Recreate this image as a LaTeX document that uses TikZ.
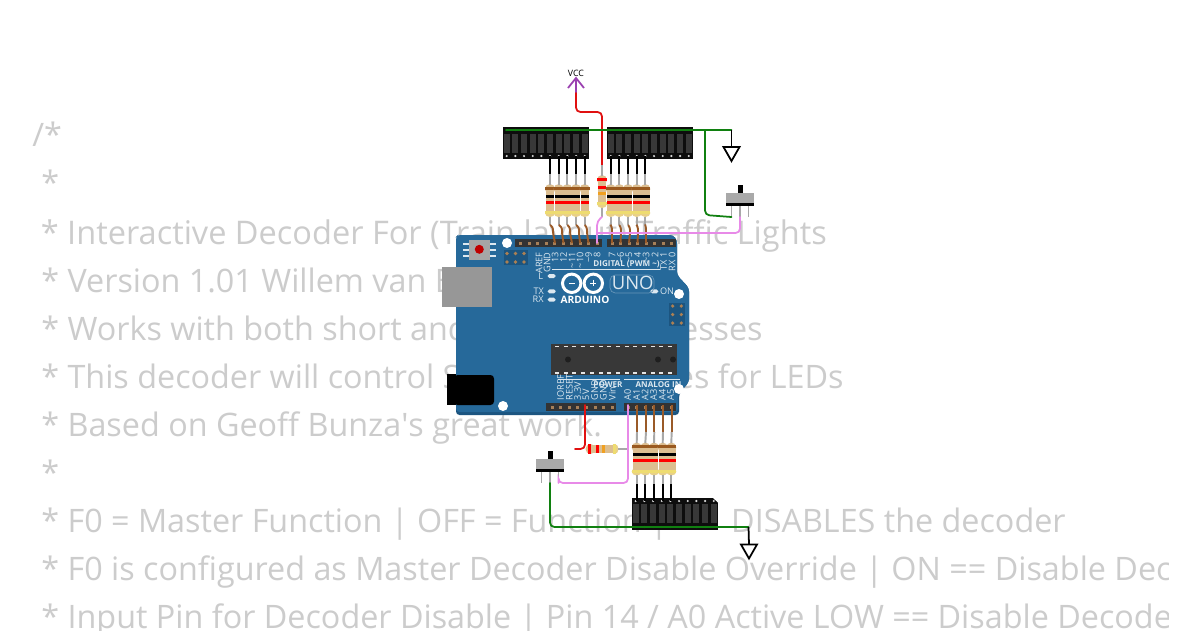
\documentclass[tikz,border=0pt]{standalone}
\usepackage{fontspec}
\setmainfont{Open Sans}
\usepackage{tikz}
\usetikzlibrary{positioning}
\definecolor{codegray}{HTML}{CCCCCC}
\definecolor{boardblue}{HTML}{26699A}
\definecolor{boarddark}{HTML}{1C5580}
\definecolor{silk}{HTML}{DCE8F0}
\definecolor{wiregreen}{HTML}{108010}
\definecolor{wirered}{HTML}{E01010}
\definecolor{wirepink}{HTML}{E88AE8}
\definecolor{wirebrown}{HTML}{9A5A28}
\definecolor{vccpurple}{HTML}{9A40B0}
\definecolor{leadgray}{HTML}{A8A8A8}
\definecolor{restan}{HTML}{DCBE90}
\definecolor{resend}{HTML}{E8D088}
\definecolor{bandbrown}{HTML}{9A5A20}
\definecolor{bandgold}{HTML}{EEDC70}
\definecolor{bandorange}{HTML}{F0A020}
\definecolor{switchgray}{HTML}{A9A9A9}
\tikzset{
	codeline/.style={anchor=base west, inner sep=0pt, text=codegray, font=\fontsize{18.4}{20}\selectfont},
	codewide/.style={codeline, font=\fontsize{18.52}{20}\selectfont},
	codeend/.style={codeline, anchor=base east},
	silkv/.style={rotate=90, inner sep=0pt, text=silk, font=\fontsize{5.2}{6}\selectfont},
	silkh/.style={inner sep=0pt, text=silk, font=\fontsize{5.2}{6}\selectfont},
	silkb/.style={inner sep=0pt, text=silk, font=\fontsize{4.6}{5}\selectfont\bfseries},
	wire/.style={line width=1pt, rounded corners=2.5, line cap=round},
	lead/.style={line width=1.1pt, leadgray},
	pics/resistor/.style n args={4}{code={
		\fill[restan] (0,-11.5) ellipse (5 and 5);
		\fill[resend] (0,12.5) ellipse (5 and 4);
		\fill[restan] (-4.2,-12) rectangle (4.2,11);
		\fill[#1] (-5,-13.8) rectangle (5,-11);
		\fill[#2] (-4.2,-6) rectangle (4.2,-3);
		\fill[#3] (-4.2,0) rectangle (4.2,3);
		\fill[#4] (-5,10.5) rectangle (5,13.5);
		\coordinate (-top) at (0,-16);
		\coordinate (-bot) at (0,16);
	}},
	pics/header/.style={code={
		\fill[black!95] (0,-16) rectangle (85.5,16);
		\foreach \i in {0,...,9}{
			\fill[black!78] (0.7+8.67*\i,-9) rectangle (6.7+8.67*\i,10);
			\fill[white!85!black] (3.7+8.67*\i,13) circle (1.2);
			\fill[green!55!black] (3.7+8.67*\i,-13) circle (1.2);
		}
	}},
	pics/slideswitch/.style={code={
		\fill[black] (-2.5,-18) rectangle (2.5,-10);
		\fill[switchgray] (-14,-10) rectangle (14,0);
		\fill[black] (-14,0) rectangle (14,3);
		\foreach \i in {-8.5,0,8.5}{
			\draw[lead] (\i,3)--(\i,14);
		}
		\coordinate (-a) at (-8.5,14);
		\coordinate (-b) at (0,14);
		\coordinate (-c) at (8.5,14);
	}},
	pics/gndsym/.style={code={
		\draw[black, line width=1pt, fill=white] (-8,0)--(8,0)--(0,14)--cycle;
		\coordinate (-in) at (0,0);
	}},
}
\begin{document}
\begin{tikzpicture}[x=0.02cm, y=-0.02cm]
	\useasboundingbox (0,0) rectangle (1200,630);
	\fill[white] (0,0) rectangle (1200,630);
	% code text behind the board
	\begin{scope}
		\clip (0,0) rectangle (1168,630);
		\node[codeline] (ln1) at (32,146) {/*};
		\node[codeline] (ln2) at (41,194) {*};
		\node[codewide] (ln3) at (40.5,244) {* Interactive Decoder For (Train layout) Traffic Lights};
		\node[codeline] (ln4) at (41,292) {* Version 1.01 Willem van B};
		\node[codeline] (ln5) at (41,340) {* Works with both short and};
		\node[codeend] (ln5b) at (763,340) {esses};
		\node[codeline] (ln6) at (41,388) {* This decoder will control S};
		\node[codeend] (ln6b) at (844,388) {es for LEDs};
		\node[codeline] (ln7) at (41,436) {* Based on Geoff Bunza\textquotesingle s great work.};
		\node[codeline] (ln8) at (41,484) {*};
		\node[codeline] (ln9) at (41,532) {* F0 = Master Function | OFF = Function |};
		\node[codeend] (ln9b) at (1066,532) {DISABLES the decoder};
		\node[codeline] (ln10) at (41,580) {* F0 is configured as Master Decoder Disable Override | ON == Disable Decoder};
		\node[codeline] (ln11) at (41,628) {* Input Pin for Decoder Disable | Pin 14 / A0 Active LOW == Disable Decoder};
	\end{scope}
	% board
	\fill[boarddark, rounded corners=2] (456,237)--(458,235)--(673,235)--(677,240)--(677,275)--(689,288)--(689,382)--(679,394)--(679,415)--(456,415)--cycle;
	\fill[boardblue, rounded corners=2] (456,237)--(458,235)--(673,235)--(677,240)--(677,275)--(689,288)--(689,382)--(678,394)--(678,412)--(456,412)--cycle;
	% reset button
	\fill[silk] (463,243) rectangle (496,245);
	\fill[silk] (463,249) rectangle (496,251);
	\fill[silk] (463,255) rectangle (496,257);
	\fill[gray!70] (469,240) rectangle (490,260);
	\fill[red!75!black] (479.3,249.3) circle (4.5);
	% usb and jack
	\fill[leadgray!90!black] (442,267) rectangle (492,307);
	\fill[black] (447,374) rectangle (456,405);
	\fill[black, rounded corners=2] (454,375) rectangle (494,405);
	% icsp blocks
	\fill[boarddark] (504,250) rectangle (528,265);
	\foreach \hx in {507,515.5,524}{
		\foreach \hy in {253.5,262}{
			\fill[brown!70!gray] (\hx,\hy) circle (1.8);
		}
	}
	\fill[boarddark] (669,303) rectangle (685,326);
	\foreach \hx in {672.7,681.3}{
		\foreach \hy in {306,314.5,323}{
			\fill[brown!70!gray] (\hx,\hy) circle (1.8);
		}
	}
	% chip
	\fill[black!78] (551,344) rectangle (677,375);
	\foreach \i in {0,...,13}{
		\fill[white!90!black] (555+8.7*\i,345.5) rectangle (559+8.7*\i,347);
		\fill[white!90!black] (555+8.7*\i,372) rectangle (559+8.7*\i,373.5);
	}
	\foreach \hx in {568,658,673}{
		\fill[black!88] (\hx,359.5) circle (3);
	}
	% pin strips
	\fill[black!80] (515,239) rectangle (602,247);
	\fill[black!80] (607,239) rectangle (676,247);
	\fill[black!80] (546,403) rectangle (616,411);
	\fill[black!80] (624,403) rectangle (676,411);
	\foreach \i in {0,...,9}{
		\fill[brown!60!gray] (519+8.5*\i,241.5) rectangle (522+8.5*\i,244.5);
	}
	\foreach \i in {0,...,7}{
		\fill[brown!60!gray] (610.5+8.5*\i,241.5) rectangle (613.5+8.5*\i,244.5);
		\fill[brown!60!gray] (550.5+8.6*\i,405.5) rectangle (553.5+8.6*\i,408.5);
	}
	\foreach \i in {0,...,5}{
		\fill[brown!60!gray] (626.5+8.6*\i,405.5) rectangle (629.5+8.6*\i,408.5);
	}
	% board labels
	\foreach \n/\lx/\ltxt in {a/539/AREF,b/547/GND,c/555/13,d/563.5/12,e/572/\textasciitilde 11,f/580/\textasciitilde 10,g/588.5/\textasciitilde 9,h/597/8,i/612/7,j/620.5/\textasciitilde 6,k/629/\textasciitilde 5,l/637.5/4,m/646/\textasciitilde 3,n/655/2,o/663.5/1,p/672/0}{
		\node[silkv, anchor=east] (dg\n) at (\lx,252) {\ltxt};
	}
	\node[silkv, anchor=east] (dgtx) at (663.5,260) {TX};
	\node[silkv, anchor=east] (dgrx) at (672,260) {RX};
	\foreach \n/\lx/\ltxt in {a/560.7/IOREF,b/569.3/RESET,c/577.7/3.3V,d/586/5V,e/594.7/GND,f/603.3/GND,g/612.3/Vin,h/627.7/A0,i/636.7/A1,j/645/A2,k/653.7/A3,l/662.3/A4,m/670.7/A5}{
		\node[silkv, anchor=west] (pw\n) at (\lx,400.5) {\ltxt};
	}
	\draw[silk, line width=0.3pt] (552,269)--(660,269);
	\draw[silk, line width=0.3pt] (558,379)--(620,379);
	\draw[silk, line width=0.3pt] (624,379)--(680,379);
	\node[silkb, anchor=east] (lbdigital) at (660,264) {DIGITAL (PWM \textasciitilde)};
	\node[silkb] (lbpower) at (608,384.5) {POWER};
	\node[silkb] (lbanalog) at (658.5,384.5) {ANALOG IN};
	\node[silkh] (lbl) at (540.7,276) {L};
	\node[silkh] (lbtx) at (538.7,291) {TX};
	\node[silkh] (lbrx) at (538.2,299.7) {RX};
	\node[silkh] (lbon) at (667,291.3) {ON};
	\foreach \hx/\hy in {551.7/276,551.7/291.3,551.7/299.7,654.3/291.3}{
		\fill[silk, rounded corners=1] (\hx-4,\hy-2) rectangle (\hx+4,\hy+2);
	}
	% mounting holes
	\foreach \hx/\hy in {507/243,679/294,679/389,503/406}{
		\fill[white] (\hx,\hy) circle (5);
	}
	% logo
	\draw[white, line width=1.7pt] (571.7,283.3) circle (9.2);
	\draw[white, line width=1.7pt] (593.3,283.3) circle (9.2);
	\fill[white] (568.7,282.6) rectangle (574.7,284);
	\fill[white] (590.3,282.6) rectangle (596.3,284);
	\fill[white] (592.6,280.3) rectangle (594,286.3);
	\node[inner sep=0pt, text=white, font=\fontsize{5.8}{7}\selectfont\bfseries] (lbarduino) at (585,299.7) {ARDUINO};
	\draw[silk!35!boardblue, line width=0.4pt, rounded corners=3] (610,275) rectangle (654,293);
	\node[inner sep=0pt, text=silk, font=\fontsize{10.5}{12}\selectfont] (lbuno) at (632.7,283.3) {UNO};
	% top headers
	\pic (hdrtl) at (503,143) {header};
	\pic (hdrtr) at (607,143) {header};
	\pic[yscale=-1] (hdrb) at (632,514) {header};
	\fill[white] (712,497)--(718.5,497)--(718.5,503)--cycle;
	% resistors to the digital pins
	\foreach \n/\rx/\bx/\px in {1/550/553/555,2/558.7/562/563.5,3/567.3/570/572,4/576/579/580,5/584.7/587/588.5,6/610.7/612/612,7/619.3/621/620.5,8/628/630/629,9/636.7/638/637.5,10/645.3/646/646}{
		\pic (rt\n) at (\rx,200.5) {resistor={bandbrown}{black}{red}{bandgold}};
		\coordinate (kt\n) at (\rx,156);
		\coordinate (bt\n) at (\px,243);
		\coordinate (mt\n) at (\bx,233);
		\draw[black, line width=1.1pt] (kt\n)--(\rx,173.5);
		\draw[lead] (\rx,173.5)--(rt\n-top);
		\draw[lead] (rt\n-bot)--(\rx,225);
		\draw[wirebrown, line width=1.1pt, rounded corners=1.5] (\rx,225)--(\bx,227)--(mt\n)--(bt\n);
	}
	% resistors to the analog pins
	\foreach \n/\rx/\px in {1/636.7/637,2/645.3/646,3/654/654.3,4/662.7/663,5/671.3/671.7}{
		\pic (rb\n) at (\rx,459) {resistor={bandbrown}{black}{red}{bandgold}};
		\coordinate (ba\n) at (\px,405);
		\coordinate (kb\n) at (\rx,501);
		\draw[wirebrown, line width=1.1pt] (ba\n)--(\px,432);
		\draw[lead] (\px,432)--(rb\n-top);
		\draw[lead] (rb\n-bot)--(\rx,484);
		\draw[black, line width=1.1pt] (\rx,484)--(kb\n);
	}
	% vcc
	\node[inner sep=0pt, font=\fontsize{5}{6}\selectfont] (vcc) at (576,73) {VCC};
	\coordinate (vcctip) at (576,78);
	\coordinate (vccstem) at (576,93);
	\draw[vccpurple, line width=1pt] (568,88)--(vcctip)--(584,88);
	\draw[vccpurple, line width=1pt] (vcctip)--(vccstem);
	\pic (rv) at (602,191.5) {resistor={red}{red}{bandorange}{bandgold}};
	\coordinate (rvlo) at (602,217);
	\draw[wire, wirered] (vccstem)--(576,112)--(602,112)--(602,165);
	\draw[lead] (602,165)--(rv-top);
	\draw[lead] (rv-bot)--(rvlo);
	% ground and switch upper right
	\pic (gnda) at (731.5,147) {gndsym};
	\pic (swa) at (740,203) {slideswitch};
	\coordinate (tapa) at (705,130);
	\coordinate (pin8) at (597,243);
	\draw[wire, wiregreen] (506,130)--(731.5,130);
	\draw[black, line width=1pt] (731.5,130)--(gnda-in);
	\draw[wire, wiregreen] (tapa)--(705,215)--(swa-a);
	\draw[wire, wirepink] (rvlo)--(597,221)--(pin8);
	\draw[wire, wirepink] (597,233)--(740,233)--(swa-b);
	% lower wiring
	\pic (rh) at (602,449) [rotate=90] {resistor={red}{red}{bandorange}{bandgold}};
	\pic (swb) at (550,469) {slideswitch};
	\pic (gndb) at (749,544.5) {gndsym};
	\coordinate (pin5v) at (585,405);
	\coordinate (pina0) at (628,405);
	\coordinate (corb) at (748.5,527);
	\draw[wire, wirered] (pin5v)--(585,449)--(575,449);
	\draw[lead] (618,449)--(628,449);
	\draw[wire, wirepink] (pina0)--(628,483)--(558.5,483)--(swb-c);
	\draw[wire, wiregreen] (swb-b)--(550,527)--(corb);
	\draw[black, line width=1pt] (corb)--(gndb-in);
\end{tikzpicture}
\end{document}
